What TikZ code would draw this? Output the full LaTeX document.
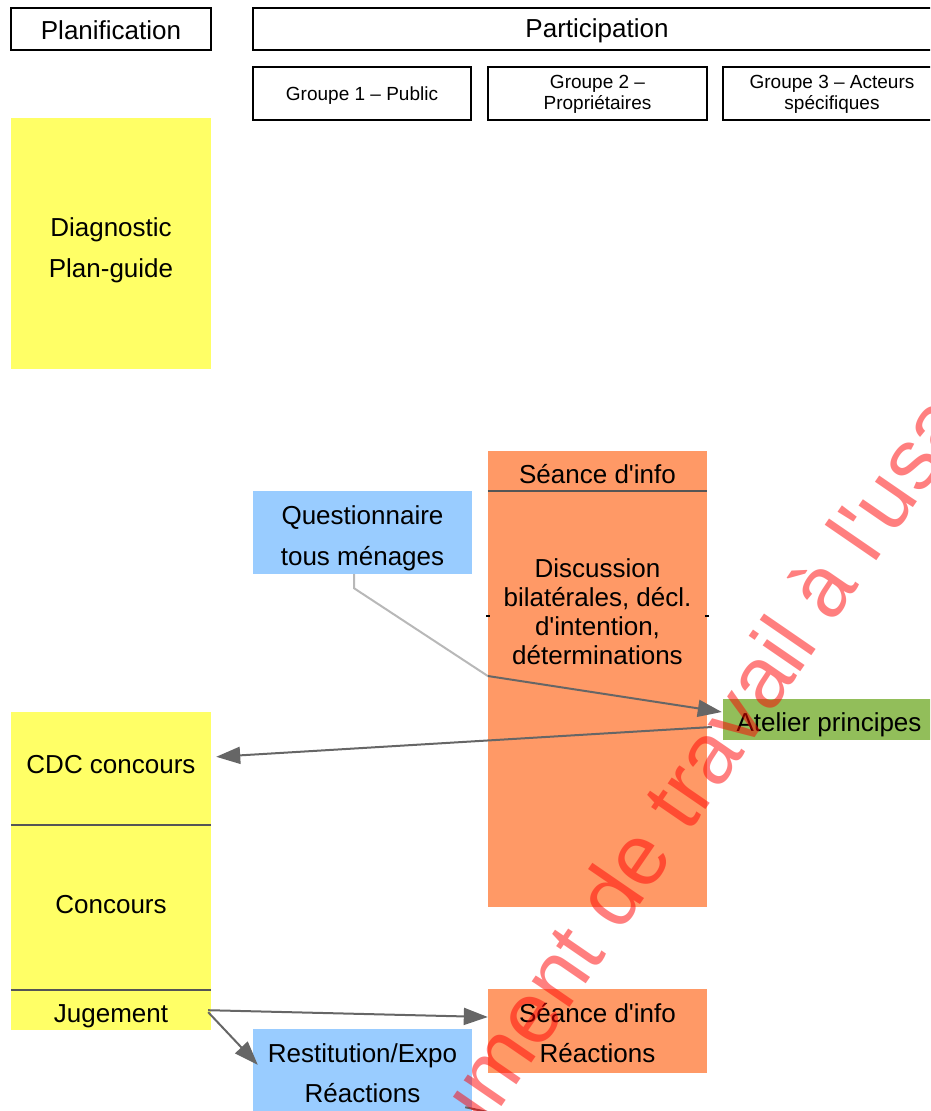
\documentclass[tikz,border=0pt]{standalone}
\usepackage{fontspec}
\newfontfamily\lib{Liberation Sans}
\usetikzlibrary{arrows.meta,calc}
\definecolor{cyel}{HTML}{FFFF66}
\definecolor{corg}{HTML}{FF9966}
\definecolor{cblu}{HTML}{99CCFF}
\definecolor{cgrn}{HTML}{92BE5A}
\definecolor{cline}{HTML}{666666}
\definecolor{clight}{HTML}{B8B8B8}
\definecolor{cdiv}{HTML}{555555}
\begin{document}
\begin{tikzpicture}[x=1pt,y=-1pt,
  hdr/.style={draw=black,line width=1.4pt,inner sep=0pt},
  plain/.style={inner sep=0pt},
  big/.style={inner sep=0pt,align=center,font=\lib\fontsize{26}{30}\selectfont},
  small/.style={inner sep=0pt,align=center,font=\lib\fontsize{19}{21}\selectfont},
  two/.style={inner sep=0pt,align=center,font=\lib\fontsize{26}{40.5}\selectfont},
  txt/.style={inner sep=0pt,align=center,font=\lib\fontsize{26}{29}\selectfont},
  conn/.style={draw=cline,line width=2pt},
  arr/.style={conn,-{Triangle[length=24pt,width=17pt]}},
  divl/.style={draw=cdiv,line width=1.5pt},
  tick/.style={draw=black,line width=1.2pt},
]
\useasboundingbox (0,0) rectangle (930,1111);
\clip (0,0) rectangle (930,1111);

% headers
\node[hdr,minimum width=200pt,minimum height=42pt] (plan) at (111,29) {};
\node[big] (planT) at ($(plan)+(0,1.5)$) {Planification};
\node[hdr,minimum width=688pt,minimum height=42pt] (part) at (597,29) {};
\node[big] (partT) at ($(part)+(0,2)$) {Participation};
\node[hdr,minimum width=218pt,minimum height=53pt] (g1) at (362,93.5) {};
\node[small] (g1T) at ($(g1)+(0,2)$) {Groupe 1 – Public};
\node[hdr,minimum width=219pt,minimum height=53pt] (g2) at (597.5,93.5) {};
\node[small] (g2T) at ($(g2)+(0,1)$) {Groupe 2 –\\Propriétaires};
\node[hdr,minimum width=218pt,minimum height=53pt] (g3) at (832,93.5) {};
\node[small] (g3T) at ($(g3)+(0,1)$) {Groupe 3 – Acteurs\\spécifiques};

% planification column
\node[plain,fill=cyel,minimum width=200pt,minimum height=251pt] (diag) at (111,243.5) {};
\node[two] (diagT) at ($(diag)+(0,7)$) {Diagnostic\\Plan-guide};
\node[plain,fill=cyel,minimum width=200pt,minimum height=318pt] (cdc) at (111,871) {};
\draw[divl] ($(cdc.north west)+(0,113)$) -- ($(cdc.north east)+(0,113)$);
\draw[divl] ($(cdc.north west)+(0,278)$) -- ($(cdc.north east)+(0,278)$);
\node[txt] (cdcT) at (111,765) {CDC concours};
\node[txt] (conc) at (111,905) {Concours};
\node[txt] (jug) at (111,1016) {Jugement};

% participation
\node[plain,fill=corg,minimum width=219pt,minimum height=456pt] (disc) at (597.5,679) {};
\draw[divl] ($(disc.north west)+(0,40)$) -- ($(disc.north east)+(0,40)$);
\node[txt] (seance1) at (597.5,474.5) {Séance d\textquotesingle info};
\node[txt] (discT) at (597.5,612) {Discussion\\bilatérales, décl.\\d\textquotesingle intention,\\déterminations};
\draw[tick] ($(disc.west)+(-1.5,-63)$) -- ++(3.5,0);
\draw[tick] ($(disc.east)+(-2,-63)$) -- ++(4,0);

\node[plain,fill=cblu,minimum width=219pt,minimum height=83pt] (quest) at (362.5,532.5) {};
\node[two] (questT) at ($(quest)+(0,6)$) {Questionnaire\\tous ménages};
\node[plain,fill=cgrn,minimum width=218pt,minimum height=41pt] (atel) at (832,719.5) {};
\node[txt] (atelT) at ($(atel)+(-3,5)$) {Atelier principes};
\node[plain,fill=corg,minimum width=219pt,minimum height=84pt] (seance2) at (597.5,1031) {};
\node[two] (seance2T) at ($(seance2)+(0,2)$) {Séance d\textquotesingle info\\Réactions};
\node[plain,fill=cblu,minimum width=219pt,minimum height=87pt] (resti) at (362.5,1072.5) {};
\node[two] (restiT) at ($(resti)+(0,0.5)$) {Restitution/Expo\\Réactions};

% connectors
\coordinate (q1) at ($(quest.south)+(-8.5,14)$);
\coordinate (qm) at ($(disc.west)+(0,-3)$);
\draw[draw=clight,line width=2pt] ($(quest.south)+(-8.5,0)$) -- (q1) -- (qm);
\draw[arr] (qm) -- ($(atel.west)+(-1,-7.5)$);
\draw[arr] ($(atel.west)+(-11,7.5)$) -- ($(cdc.north east)+(5,45)$);
\draw[arr] ($(cdc.south east)+(-3,-20)$) -- ($(seance2.west)+(0,-14)$);
\draw[arr] ($(cdc.south east)+(-3,-18)$) -- ($(resti.north west)+(5,36)$);
\coordinate (off) at (497,1114);
\draw[conn] ($(resti.south east)+(-7,-9)$) -- (off);

% watermark
\node[inner sep=0pt,anchor=base west,rotate=55.5,text=red,text opacity=0.5,font=\lib\fontsize{86.4}{90}\selectfont] (wm) at (384,1278) {Document de travail à l\textquotesingle usage};
\end{tikzpicture}
\end{document}
